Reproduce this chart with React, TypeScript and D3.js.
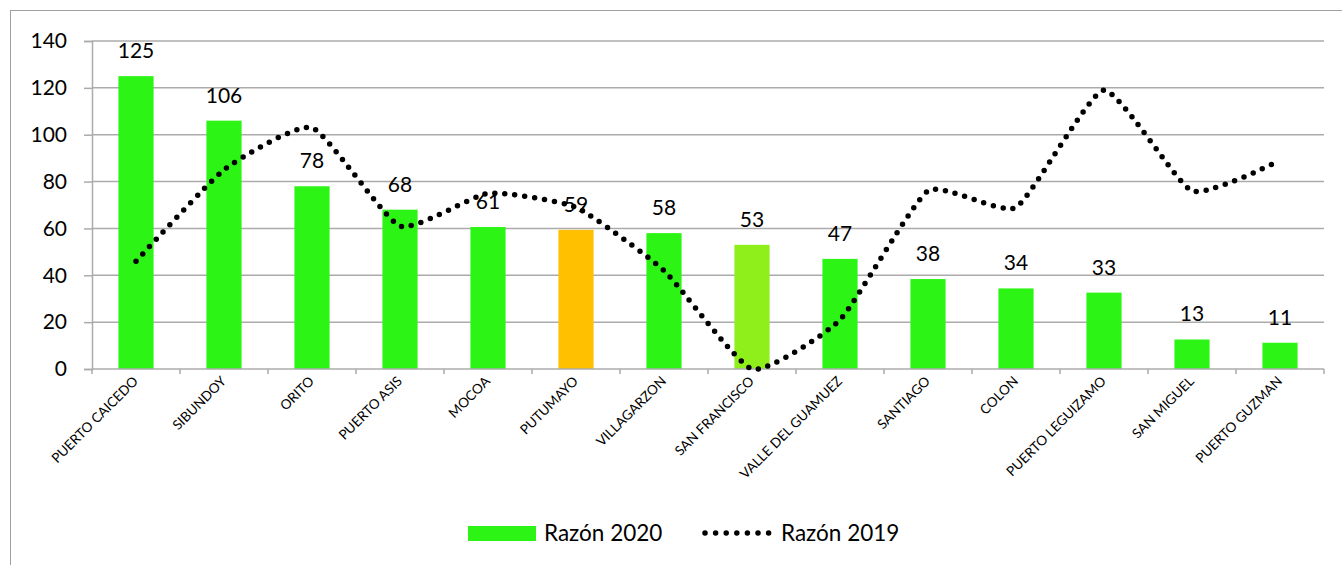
import React, { useEffect, useRef } from 'react';
import * as d3 from 'd3';

const municipios = ['PUERTO CAICEDO', 'SIBUNDOY', 'ORITO', 'PUERTO ASIS', 'MOCOA', 'PUTUMAYO', 'VILLAGARZON', 'SAN FRANCISCO', 'VALLE DEL GUAMUEZ', 'SANTIAGO', 'COLON', 'PUERTO LEGUIZAMO', 'SAN MIGUEL', 'PUERTO GUZMAN'];
const razon2020 = [125, 106, 78, 68, 60.6, 59.4, 58, 53, 47, 38.4, 34.4, 32.6, 12.6, 11.2];
const razon2019 = [46, 85, 103, 61, 75, 69, 42, 0, 21, 76, 69, 119, 76, 89];
const barColors = ['#2cf516', '#2cf516', '#2cf516', '#2cf516', '#2cf516', '#ffc000', '#2cf516', '#8fef1a', '#2cf516', '#2cf516', '#2cf516', '#2cf516', '#2cf516', '#2cf516'];
const yTicks = [0, 20, 40, 60, 80, 100, 120, 140];

const FONT = 'Lato, "Open Sans", sans-serif';

const App = () => {
  const ref = useRef<SVGSVGElement>(null);

  useEffect(() => {
    const svg = d3.select(ref.current);
    svg.selectAll('*').remove();

    const left = 92, right = 1324, top = 41, bottom = 369;

    // outer chart border
    svg.append('rect')
      .attr('x', 10.5).attr('y', 10.5)
      .attr('width', 1400).attr('height', 600)
      .attr('fill', 'white').attr('stroke', '#a0a0a0').attr('stroke-width', 1);

    const x = d3.scaleBand().domain(municipios).range([left, right]).paddingInner(0.6).paddingOuter(0.3);
    const xc = d3.scaleBand().domain(municipios).range([left, right]);
    const y = d3.scaleLinear().domain([0, 140]).range([bottom, top]);

    // gridlines
    svg.append('g').selectAll('line').data(yTicks.filter(t => t > 0)).enter().append('line')
      .attr('x1', left).attr('x2', right)
      .attr('y1', d => y(d)).attr('y2', d => y(d))
      .attr('stroke', '#ababab').attr('stroke-width', 1.5);

    // y axis
    const yAxis = svg.append('g').attr('transform', `translate(${left},0)`)
      .call(d3.axisLeft(y).tickValues(yTicks).tickSize(8).tickPadding(17));
    yAxis.select('.domain').attr('stroke', '#ababab').attr('stroke-width', 1.5);
    yAxis.selectAll('.tick line').attr('stroke', '#ababab').attr('stroke-width', 1.5);
    yAxis.selectAll('.tick text').attr('font-family', FONT).attr('font-size', 21).attr('fill', '#000');

    // bars
    svg.append('g').selectAll('rect').data(razon2020).enter().append('rect')
      .attr('x', (d, i) => x(municipios[i])!)
      .attr('width', x.bandwidth())
      .attr('y', d => y(d))
      .attr('height', d => y(0) - y(d))
      .attr('fill', (d, i) => barColors[i]);

    // x axis with ticks at category boundaries
    svg.append('line').attr('x1', left).attr('x2', right).attr('y1', bottom).attr('y2', bottom)
      .attr('stroke', '#ababab').attr('stroke-width', 1.5);
    const bounds = municipios.map(m => xc(m)!).concat([right]);
    svg.append('g').selectAll('line').data(bounds).enter().append('line')
      .attr('x1', d => d).attr('x2', d => d).attr('y1', bottom).attr('y2', bottom + 5)
      .attr('stroke', '#ababab').attr('stroke-width', 1.5);

    svg.append('g').selectAll('text').data(municipios).enter().append('text')
      .attr('transform', d => `translate(${xc(d)! + xc.bandwidth() / 2 + 3},${bottom + 13}) rotate(-45)`)
      .attr('text-anchor', 'end')
      .attr('font-family', FONT).attr('font-size', 13.5).attr('fill', '#000')
      .text(d => d);

    // 2019 dotted line
    const line = d3.line<number>()
      .x((d, i) => xc(municipios[i])! + xc.bandwidth() / 2)
      .y(d => y(d))
      .curve(d3.curveCardinal.tension(0.5));
    svg.append('path').datum(razon2019)
      .attr('d', line)
      .attr('fill', 'none').attr('stroke', '#000').attr('stroke-width', 5.5)
      .attr('stroke-linecap', 'round').attr('stroke-dasharray', '0 10');

    // data labels
    svg.append('g').selectAll('text').data(razon2020).enter().append('text')
      .attr('x', (d, i) => xc(municipios[i])! + xc.bandwidth() / 2)
      .attr('y', d => y(d) - 18)
      .attr('text-anchor', 'middle')
      .attr('font-family', FONT).attr('font-size', 21).attr('fill', '#000')
      .text(d => Math.round(d));

    // legend
    const lg = svg.append('g');
    lg.append('rect').attr('x', 468).attr('y', 526).attr('width', 68).attr('height', 15).attr('fill', '#2cf516');
    lg.append('text').attr('x', 544).attr('y', 541).attr('font-family', FONT).attr('font-size', 22.5).attr('fill', '#000').text('Razón 2020');
    lg.append('line').attr('x1', 705).attr('x2', 769).attr('y1', 533).attr('y2', 533)
      .attr('stroke', '#000').attr('stroke-width', 5.5).attr('stroke-linecap', 'round').attr('stroke-dasharray', '0 10.6');
    lg.append('text').attr('x', 781).attr('y', 541).attr('font-family', FONT).attr('font-size', 22.5).attr('fill', '#000').text('Razón 2019');
  }, []);

  return <svg ref={ref} width={1342} height={565} style={{ position: 'absolute', left: 0, top: 0 }} />;
};

export default App;
